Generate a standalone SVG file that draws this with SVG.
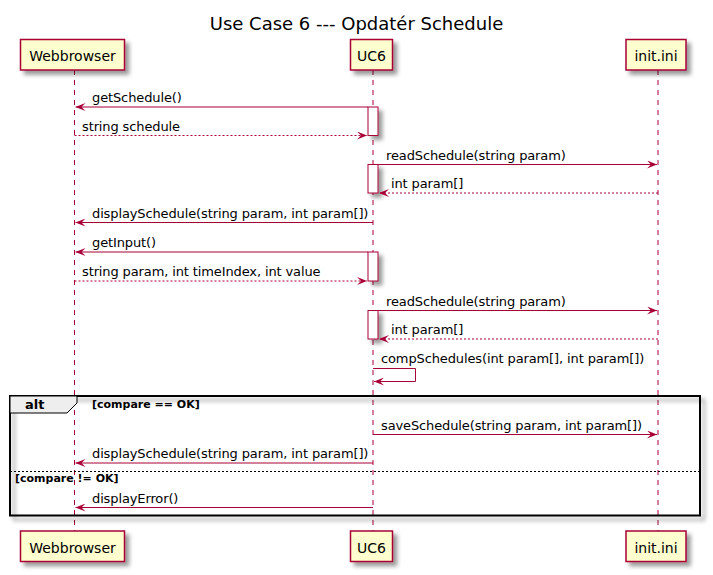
<svg xmlns="http://www.w3.org/2000/svg" width="713" height="575" viewBox="0 0 713 575">
<defs>
<filter id="sh" x="-1" y="-1" width="300%" height="300%">
<feGaussianBlur in="SourceAlpha" stdDeviation="2" result="b"/>
<feColorMatrix in="b" type="matrix" values="0 0 0 0 0  0 0 0 0 0  0 0 0 0 0  0 0 0 0.4 0" result="c"/>
<feOffset in="c" dx="4" dy="4" result="o"/>
<feBlend in="SourceGraphic" in2="o" mode="normal"/>
</filter>
<marker id="ah" viewBox="0 0 10 8" refX="10" refY="4" markerWidth="10" markerHeight="8" markerUnits="userSpaceOnUse" orient="auto">
<polygon points="0,0 10,4 0,8 4,4" fill="#A80036"/>
</marker>
</defs>
<style>
.t{font-family:"DejaVu Sans",sans-serif;fill:#000}
.msg{font-size:13px;letter-spacing:-0.12px}
.part{font-size:14px;text-anchor:middle}
.b{font-weight:bold;font-size:11px}
.box{fill:#FEFECE;stroke:#A80036;stroke-width:1.5;filter:url(#sh)}
.life{stroke:#A80036;stroke-width:1;stroke-dasharray:5,5;fill:none}
.act{fill:#FFFFFF;stroke:#A80036;stroke-width:1;filter:url(#sh)}
.m{stroke:#A80036;stroke-width:1;fill:none;marker-end:url(#ah)}
.r{stroke:#A80036;stroke-width:1;fill:none;stroke-dasharray:2,2;marker-end:url(#ah)}
</style>
<rect width="713" height="575" fill="#FFFFFF"/>
<text class="t" x="356.5" y="30" font-size="18" text-anchor="middle">Use Case 6 --- Opdatér Schedule</text>

<g id="lifelines">
<line class="life" x1="74.5" y1="70" x2="74.5" y2="531"/>
<line class="life" x1="373" y1="70" x2="373" y2="531"/>
<line class="life" x1="658" y1="70" x2="658" y2="531"/>
</g>

<g id="alt-frame">
<rect x="10" y="396" width="690" height="119.5" fill="none" stroke="#000" stroke-width="2" filter="url(#sh)"/>
<polygon points="10,396 77,396 77,403 67,413 10,413" fill="#EEEEEE" stroke="#000" stroke-width="1"/>
<text class="t" x="25" y="409" font-size="13" font-weight="bold">alt</text>
<text class="t b" x="92" y="408">[compare == OK]</text>
<line x1="10" y1="471.5" x2="700" y2="471.5" stroke="#000" stroke-width="1" stroke-dasharray="2,2"/>
<text class="t b" x="15" y="482">[compare != OK]</text>
</g>

<g id="Webbrowser">
<rect class="box" x="20.5" y="39.5" width="104" height="30.5"/>
<text class="t part" x="72.5" y="61">Webbrowser</text>
<rect class="box" x="20.5" y="531" width="104" height="30.5"/>
<text class="t part" x="72.5" y="552.5">Webbrowser</text>
</g>
<g id="UC6">
<rect class="box" x="350.5" y="39.5" width="42" height="30.5"/>
<text class="t part" x="371.5" y="61">UC6</text>
<rect class="box" x="350.5" y="531" width="42" height="30.5"/>
<text class="t part" x="371.5" y="552.5">UC6</text>
</g>
<g id="init.ini">
<rect class="box" x="626" y="39.5" width="60" height="30.5"/>
<text class="t part" x="656" y="61">init.ini</text>
<rect class="box" x="626" y="531" width="60" height="30.5"/>
<text class="t part" x="656" y="552.5">init.ini</text>
</g>

<g id="activations">
<rect class="act" x="368" y="107" width="10" height="28.5"/>
<rect class="act" x="368" y="164.5" width="10" height="28.5"/>
<rect class="act" x="368" y="252" width="10" height="29"/>
<rect class="act" x="368" y="310.5" width="10" height="28.5"/>
</g>

<g id="connectors">
<line class="m" x1="368" y1="107" x2="75.5" y2="107"/>
<text class="t msg" x="92" y="102">getSchedule()</text>
<line class="r" x1="74.5" y1="135.5" x2="367" y2="135.5"/>
<text class="t msg" x="82" y="130.5">string schedule</text>
<line class="m" x1="378" y1="164.5" x2="657" y2="164.5"/>
<text class="t msg" x="386" y="159.5">readSchedule(string param)</text>
<line class="r" x1="658" y1="193" x2="379" y2="193"/>
<text class="t msg" x="391" y="188">int param[]</text>
<line class="m" x1="373" y1="222.5" x2="75.5" y2="222.5"/>
<text class="t msg" x="92" y="218">displaySchedule(string param, int param[])</text>
<line class="m" x1="368" y1="252" x2="75.5" y2="252"/>
<text class="t msg" x="92" y="247">getInput()</text>
<line class="r" x1="74.5" y1="281" x2="367" y2="281"/>
<text class="t msg" x="82" y="276">string param, int timeIndex, int value</text>
<line class="m" x1="378" y1="310.5" x2="657" y2="310.5"/>
<text class="t msg" x="386" y="305.5">readSchedule(string param)</text>
<line class="r" x1="658" y1="339" x2="379" y2="339"/>
<text class="t msg" x="391" y="334">int param[]</text>
<polyline class="m" points="373,368.5 415.5,368.5 415.5,381.5 374,381.5"/>
<text class="t msg" x="381" y="363">compSchedules(int param[], int param[])</text>
<line class="m" x1="373" y1="434.5" x2="657" y2="434.5"/>
<text class="t msg" x="381" y="429.5">saveSchedule(string param, int param[])</text>
<line class="m" x1="373" y1="463" x2="75.5" y2="463"/>
<text class="t msg" x="92" y="458">displaySchedule(string param, int param[])</text>
<line class="m" x1="373" y1="507.5" x2="75.5" y2="507.5"/>
<text class="t msg" x="92" y="502.5">displayError()</text>
</g>
</svg>
